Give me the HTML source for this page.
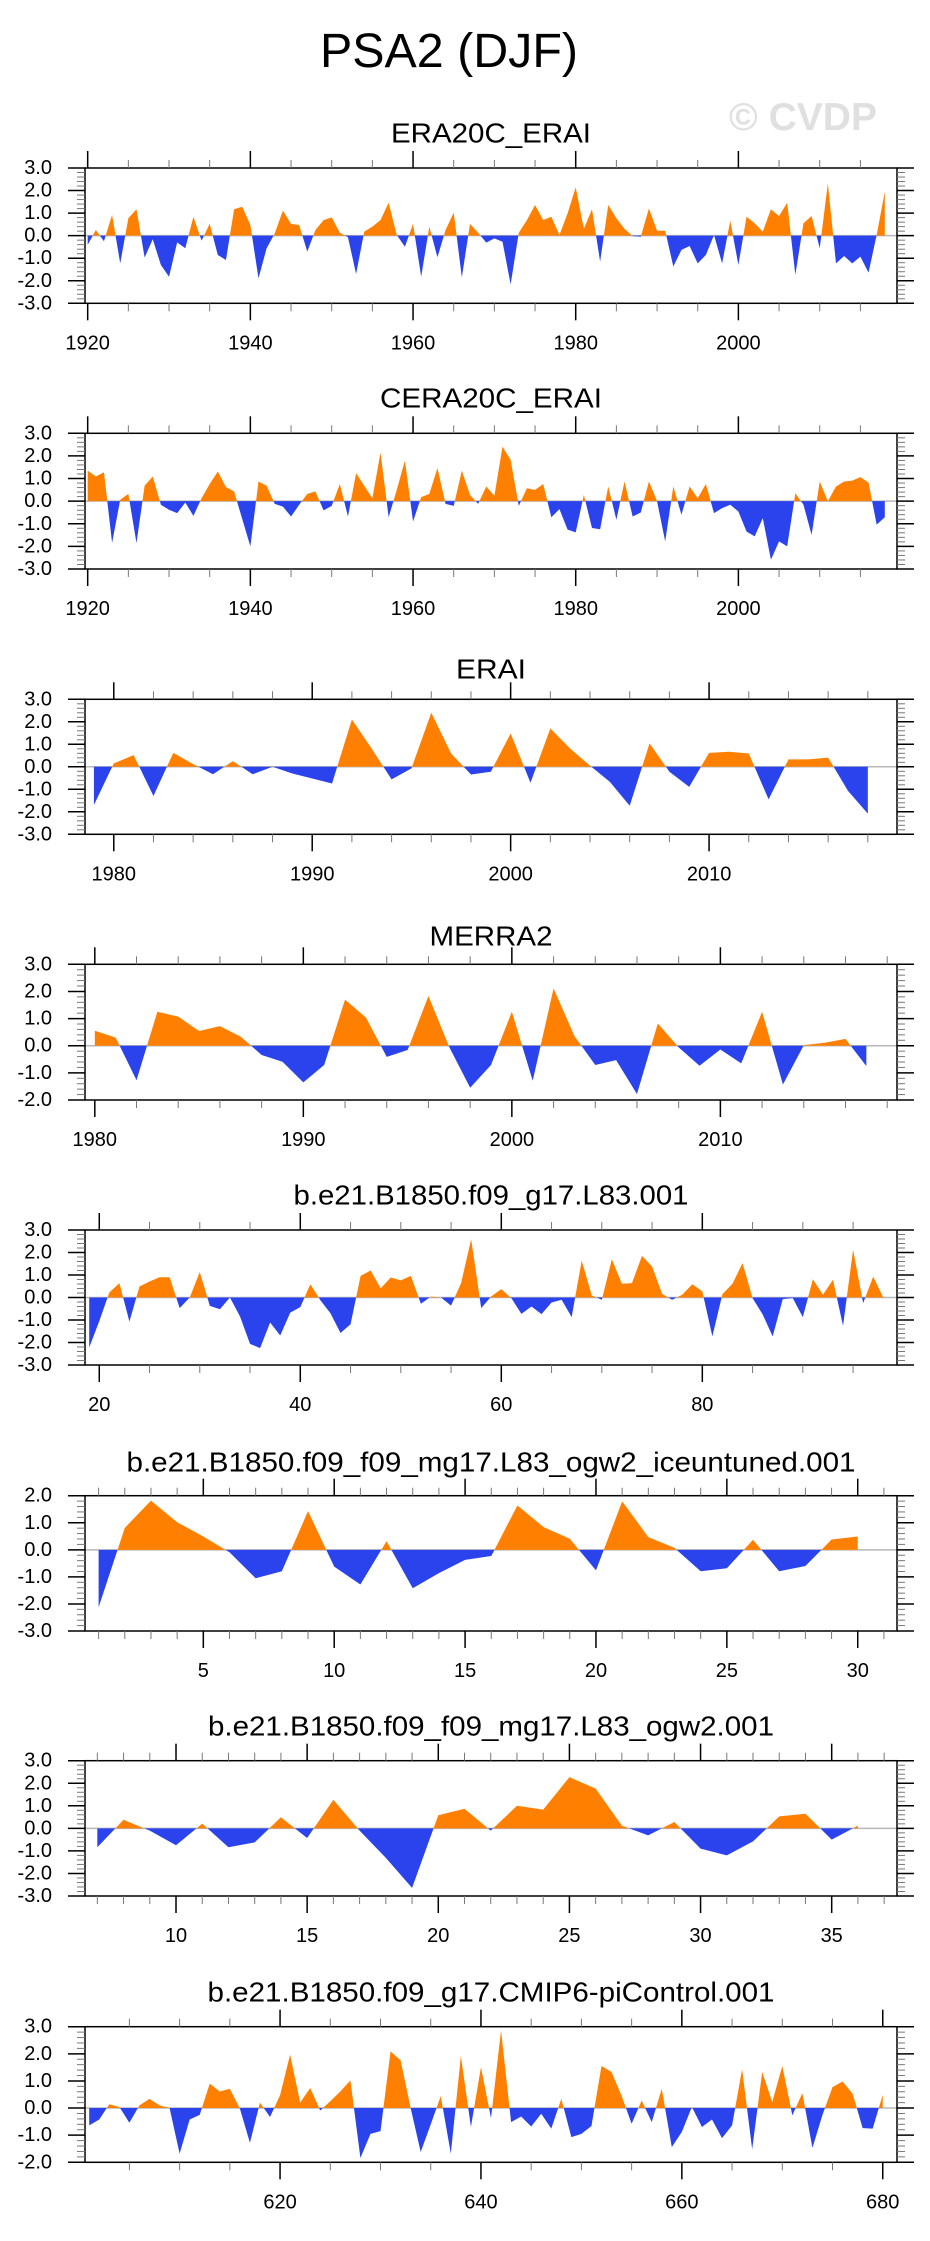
<!DOCTYPE html>
<html>
<head>
<meta charset="utf-8">
<style>
  html,body{margin:0;padding:0;background:#fff;}
  svg{display:block;font-family:"Liberation Sans",Arial,sans-serif;}
</style>
</head>
<body>
<svg id="chart" xmlns="http://www.w3.org/2000/svg" width="930" height="2241" viewBox="0 0 930 2241">
  <rect x="0" y="0" width="930" height="2241" fill="#fff"/>
  <text x="449" y="67" font-size="48" text-anchor="middle" fill="#000" textLength="258" lengthAdjust="spacingAndGlyphs">PSA2 (DJF)</text>
  <text x="803" y="130" font-size="39" font-weight="bold" text-anchor="middle" fill="#e0e0e0">© CVDP</text>
</svg>
<script>
// ---- data ----
const era20cStart = 1920;
const era20cVals = [-0.41,0.25,-0.25,0.92,-1.23,0.77,1.17,-0.97,-0.16,-1.3,-1.82,-0.3,-0.56,0.84,-0.22,0.52,-0.86,-1.08,1.17,1.28,0.47,-1.89,-0.56,0.1,1.11,0.52,0.47,-0.71,0.25,0.69,0.81,0.13,-0.07,-1.7,0.18,0.4,0.69,1.46,0.03,-0.49,0.52,-1.82,0.4,-0.96,0.25,1.02,-1.85,0.52,0.13,-0.31,-0.12,-0.27,-2.16,0.13,0.69,1.36,0.69,0.84,0.03,0.99,2.14,0.3,1.17,-1.15,1.36,0.77,0.3,-0.02,-0.05,1.21,0.22,0.22,-1.37,-0.63,-0.46,-1.23,-0.86,0.03,-1.23,0.66,-1.3,0.84,0.55,0.18,1.17,0.87,1.46,-1.74,0.55,0.87,-0.56,2.32,-1.23,-0.9,-1.23,-0.93,-1.64,0.03,1.95];
const cera20cStart = 1920;
const cera20cVals = [1.35,1.09,1.28,-1.85,0.06,0.32,-1.85,0.68,1.09,-0.16,-0.38,-0.53,-0.06,-0.65,0.13,0.76,1.31,0.62,0.43,-0.79,-2.0,0.87,0.68,-0.12,-0.24,-0.68,-0.16,0.32,0.43,-0.41,-0.21,0.76,-0.68,1.24,0.68,0.13,2.15,-0.71,0.5,1.79,-0.9,0.18,0.32,1.46,-0.12,-0.21,1.35,0.28,-0.12,0.65,0.24,2.41,1.82,-0.21,0.57,0.5,0.76,-0.71,-0.35,-1.26,-1.38,0.28,-1.19,-1.24,0.65,-0.82,0.87,-0.68,-0.5,0.87,0.0,-1.78,0.65,-0.6,0.65,0.13,0.76,-0.53,-0.31,-0.16,-0.46,-1.34,-1.56,-0.75,-2.59,-1.78,-2.0,0.35,-0.16,-1.49,0.87,-0.01,0.65,0.87,0.91,1.06,0.82,-1.04,-0.71];
const eraiStart = 1979;
const eraiVals = [-1.7,0.15,0.52,-1.3,0.62,0.12,-0.33,0.25,-0.33,0.0,-0.3,-0.52,-0.74,2.1,0.8,-0.56,-0.07,2.4,0.59,-0.34,-0.22,1.48,-0.71,1.7,0.81,0.05,-0.67,-1.73,1.04,-0.22,-0.89,0.62,0.67,0.59,-1.45,0.33,0.33,0.41,-1.07,-2.08];
const merra2Start = 1980;
const merra2Vals = [0.55,0.3,-1.27,1.25,1.07,0.54,0.72,0.33,-0.34,-0.59,-1.35,-0.71,1.7,1.04,-0.41,-0.16,1.83,-0.05,-1.55,-0.71,1.25,-1.29,2.11,0.36,-0.71,-0.53,-1.78,0.82,-0.06,-0.74,-0.14,-0.65,1.25,-1.43,0.02,0.11,0.25,-0.75];
const l83Start = 19;
const l83Vals = [-2.22,-1.05,0.22,0.64,-1.07,0.49,0.71,0.9,0.9,-0.47,0.0,1.13,-0.37,-0.52,0.0,-0.84,-2.06,-2.25,-1.11,-1.69,-0.67,-0.43,0.59,-0.12,-0.7,-1.58,-1.19,0.96,1.2,0.41,0.89,0.76,0.96,-0.28,0.04,0.0,-0.36,0.64,2.59,-0.47,0.05,0.37,-0.03,-0.73,-0.4,-0.74,-0.22,-0.1,-0.87,1.64,0.09,-0.1,1.7,0.61,0.64,1.85,1.38,0.16,-0.1,0.12,0.59,0.27,-1.73,0.15,0.61,1.53,-0.03,-0.75,-1.73,-0.07,-0.03,-0.87,0.81,0.12,0.79,-1.26,2.12,-0.25,0.93,0.0];
const iceStart = 1;
const iceVals = [-2.12,0.81,1.82,1.02,0.49,-0.09,-1.05,-0.79,1.43,-0.62,-1.28,0.32,-1.42,-0.86,-0.37,-0.23,1.64,0.84,0.41,-0.76,1.79,0.47,0.07,-0.79,-0.68,0.37,-0.79,-0.6,0.38,0.49];
const ogw2Start = 7;
const ogw2Vals = [-0.84,0.38,-0.1,-0.75,0.21,-0.84,-0.62,0.49,-0.43,1.27,-0.1,-1.31,-2.64,0.58,0.87,-0.1,1.0,0.83,2.27,1.76,0.12,-0.31,0.28,-0.9,-1.2,-0.58,0.53,0.65,-0.5,0.12];
const piStart = 601;
const piVals = [-0.64,-0.42,0.14,0.04,-0.54,0.1,0.34,0.1,0.0,-1.68,-0.42,-0.25,0.9,0.61,0.71,-0.02,-1.28,0.2,-0.33,0.47,1.97,0.2,0.74,-0.09,0.25,0.61,1.02,-1.84,-0.95,-0.85,2.09,1.76,0.0,-1.62,-0.6,0.44,-1.68,1.92,-0.7,1.51,-0.37,2.86,-0.52,-0.31,-0.68,-0.21,-0.76,0.34,-1.07,-0.95,-0.66,1.55,1.33,0.45,-0.58,0.28,-0.52,0.71,-1.44,-0.88,0.04,-0.7,-0.42,-1.11,-0.64,1.43,-1.52,1.33,0.22,1.55,-0.27,0.55,-1.47,-0.25,0.77,0.98,0.53,-0.74,-0.76,0.49];
const panelTitles = ["ERA20C_ERAI","CERA20C_ERAI","ERAI","MERRA2","b.e21.B1850.f09_g17.L83.001","b.e21.B1850.f09_f09_mg17.L83_ogw2_iceuntuned.001","b.e21.B1850.f09_f09_mg17.L83_ogw2.001","b.e21.B1850.f09_g17.CMIP6-piControl.001"];

// ---- layout ----
const svg = document.getElementById('chart');
const NS = 'http://www.w3.org/2000/svg';
const FL = 85, FR = 897;
const panels = [
  {slug:'era20c', start:era20cStart, vals:era20cVals, top:168, bot:303.3, ymin:-3, ymax:3, xmin:1919.67, xmax:2019.5, major:20, minor:5, m0:1920, titleY:133, titleW:200},
  {slug:'cera20c', start:cera20cStart, vals:cera20cVals, top:433.3, bot:569, ymin:-3, ymax:3, xmin:1919.67, xmax:2019.5, major:20, minor:5, m0:1920, titleY:398, titleW:222},
  {slug:'erai', start:eraiStart, vals:eraiVals, top:699.3, bot:834.3, ymin:-3, ymax:3, xmin:1978.55, xmax:2019.47, major:10, minor:2, m0:1980, titleY:669, titleW:70},
  {slug:'merra2', start:merra2Start, vals:merra2Vals, top:964.3, bot:1100, ymin:-2, ymax:3, xmin:1979.53, xmax:2018.47, major:10, minor:2, m0:1980, titleY:936, titleW:123},
  {slug:'l83', start:l83Start, vals:l83Vals, top:1230, bot:1365, ymin:-3, ymax:3, xmin:18.58, xmax:99.37, major:20, minor:5, m0:20, titleY:1195, titleW:395},
  {slug:'iceuntuned', start:iceStart, vals:iceVals, top:1495.7, bot:1631, ymin:-3, ymax:2, xmin:0.48, xmax:31.5, major:5, minor:1, m0:5, titleY:1462, titleW:729},
  {slug:'ogw2', start:ogw2Start, vals:ogw2Vals, top:1760.7, bot:1896, ymin:-3, ymax:3, xmin:6.53, xmax:37.49, major:5, minor:1, m0:10, titleY:1726, titleW:566},
  {slug:'picontrol', start:piStart, vals:piVals, top:2026.7, bot:2162.3, ymin:-2, ymax:3, xmin:600.58, xmax:681.42, major:20, minor:5, m0:620, titleY:1992, titleW:567}
];

function mk(tag, attrs, parent){
  const e = document.createElementNS(NS, tag);
  for (const k in attrs) e.setAttribute(k, attrs[k]);
  (parent||svg).appendChild(e);
  return e;
}

panels.forEach((p, pi) => {
  const g = mk('g', {});
  
  
  const xs = v => FL + (v - p.xmin) / (p.xmax - p.xmin) * (FR - FL);
  const ys = v => p.bot - (v - p.ymin) / (p.ymax - p.ymin) * (p.bot - p.top);

  // title
  const t = mk('text', {x:(FL+FR)/2, y:p.titleY, 'font-size':28, 'text-anchor':'middle', 'dominant-baseline':'central', textLength:p.titleW, lengthAdjust:'spacingAndGlyphs'}, g);
  t.textContent = panelTitles[pi];
  
  

  // zero line
  const z = mk('line', {x1:FL, x2:FR, y1:ys(0), y2:ys(0), stroke:'#b8b8b8', 'stroke-width':1.5}, g);
  
  

  // points with zero crossings
  const pts = [];
  p.vals.forEach((v, i) => {
    const x = p.start + i;
    if (i > 0) {
      const pv = p.vals[i-1];
      if ((pv > 0 && v < 0) || (pv < 0 && v > 0)) {
        const f = pv / (pv - v);
        pts.push([x - 1 + f, 0]);
      }
    }
    pts.push([x, v]);
  });
  const x0 = pts[0][0], x1 = pts[pts.length-1][0];
  function areaPath(fn){
    let d = 'M' + xs(x0) + ',' + ys(0);
    pts.forEach(pt => { d += 'L' + xs(pt[0]).toFixed(2) + ',' + ys(fn(pt[1])).toFixed(2); });
    d += 'L' + xs(x1) + ',' + ys(0) + 'Z';
    return d;
  }
  const pos = mk('path', {d:areaPath(v => Math.max(v,0)), fill:'#ff8000'}, g);
  
  
  const neg = mk('path', {d:areaPath(v => Math.min(v,0)), fill:'#2a43ec'}, g);
  
  

  // frame
  const fr = mk('rect', {x:FL, y:p.top, width:FR-FL, height:p.bot-p.top, fill:'none', stroke:'#000', 'stroke-width':1.5}, g);
  
  

  // y ticks
  const yt = mk('g', {}, g);
  
  
  for (let k = Math.round(p.ymin*5); k <= Math.round(p.ymax*5); k++) {
    const v = k/5, y = ys(v), major = (k % 5 === 0);
    const L = major ? 17 : 8;
    const col = major ? '#000' : '#777';
    mk('line', {x1:FL-L, x2:FL, y1:y, y2:y, stroke:col, 'stroke-width':major?1.5:1}, yt);
    mk('line', {x1:FR, x2:FR+L, y1:y, y2:y, stroke:col, 'stroke-width':major?1.5:1}, yt);
    if (major) {
      const lb = mk('text', {x:52, y:y, 'font-size':20, 'text-anchor':'end', 'dominant-baseline':'central'}, yt);
      lb.textContent = v.toFixed(1);
      
      
    }
  }
  // x ticks
  const xt = mk('g', {}, g);
  
  
  const firstMinor = Math.ceil(p.xmin / p.minor) * p.minor;
  for (let v = firstMinor; v <= p.xmax + 1e-9; v += p.minor) {
    const x = xs(v);
    const major = Math.abs(((v - p.m0) % p.major + p.major) % p.major) < 1e-6;
    const L = major ? 17 : 8;
    const col = major ? '#000' : '#777';
    mk('line', {x1:x, x2:x, y1:p.top-L, y2:p.top, stroke:col, 'stroke-width':major?1.5:1}, xt);
    mk('line', {x1:x, x2:x, y1:p.bot, y2:p.bot+L, stroke:col, 'stroke-width':major?1.5:1}, xt);
    if (major) {
      const lb = mk('text', {x:x, y:p.bot+40, 'font-size':20, 'text-anchor':'middle', 'dominant-baseline':'central'}, xt);
      lb.textContent = String(Math.round(v));
      
      
    }
  }
});
</script>
</body>
</html>
